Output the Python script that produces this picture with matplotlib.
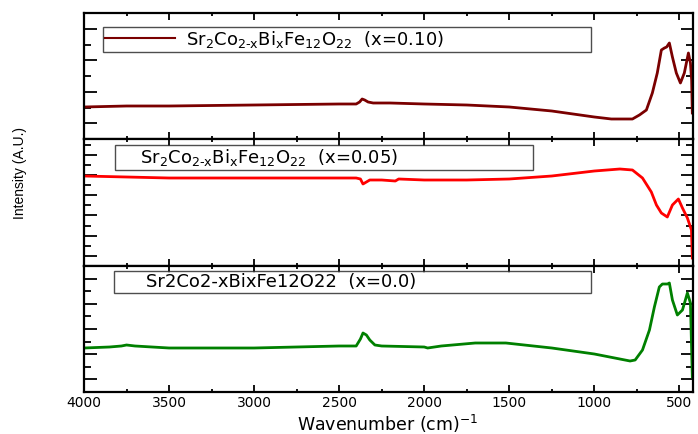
import matplotlib.pyplot as plt
import numpy as np
from matplotlib.lines import Line2D
from matplotlib.ticker import MultipleLocator, FixedLocator, NullFormatter

plt.rcParams["font.family"] = ["DejaVu Sans"]
plt.rcParams["mathtext.fontset"] = "dejavusans"

# x = 0.10 sample
wn_10 = [4000, 3750, 3500, 3000, 2500, 2400, 2380, 2365, 2350, 2330, 2300, 2200, 2000, 1750,
         1500, 1250, 1000, 900, 800, 776, 735, 694, 659, 630, 606, 588, 575, 559, 541, 518,
         494, 471, 447, 435, 428, 424]
val_10 = [32, 33, 33, 34, 35, 35, 37, 40, 39, 37, 36, 36, 35, 34,
          32, 28, 22, 20, 20, 20, 24, 29, 46, 66, 89, 91, 92, 96, 82, 66,
          56, 66, 86, 76, 59, 26]

# x = 0.05 sample
wn_05 = [4000, 3500, 3000, 2500, 2400, 2375, 2360, 2340, 2320, 2250, 2170, 2150, 2000, 1750,
         1500, 1250, 1000, 850, 776, 717, 665, 635, 606, 571, 541, 506, 482, 453, 429, 424]
val_05 = [90, 88, 88, 88, 88, 87, 82, 84, 86, 86, 85, 87, 86, 86,
          87, 90, 95, 97, 96, 88, 74, 61, 53, 49, 61, 67, 58, 48, 36, 8]

# x = 0.0 sample
wn_00 = [4000, 3850, 3780, 3750, 3700, 3600, 3500, 3000, 2500, 2400, 2375, 2360, 2340, 2320,
         2290, 2250, 2000, 1980, 1900, 1700, 1520, 1250, 1000, 850, 790, 760, 717, 676, 647,
         618, 600, 570, 559, 541, 512, 482, 453, 435, 424]
val_00 = [44, 45, 46, 47, 46, 45, 44, 44, 46, 46, 53, 59, 57, 52,
          47, 46, 45, 44, 46, 49, 49, 44, 38, 33, 31, 32, 42, 62, 85,
          105, 108, 108, 109, 92, 77, 82, 99, 89, 15]

labels = [r'Sr$_\mathregular{2}$Co$_\mathregular{2\text{-}x}$Bi$_\mathregular{x}$'
          r'Fe$_\mathregular{12}$O$_\mathregular{22}$  (x=0.10)',
          r'Sr$_\mathregular{2}$Co$_\mathregular{2\text{-}x}$Bi$_\mathregular{x}$'
          r'Fe$_\mathregular{12}$O$_\mathregular{22}$  (x=0.05)',
          'Sr2Co2-xBixFe12O22  (x=0.0)']
colors = ['#7a0000', '#ff0000', '#008000']
xticks = [4000, 3500, 3000, 2500, 2000, 1500, 1000, 500]

W, H = 698, 434
fig = plt.figure(figsize=(W / 100, H / 100), dpi=100)

panels = [(13, 139), (139, 266), (266, 392)]
ydiv = [8, 12.57, 10]
# legend box: left, right, top (figure pixels)
leg_box = [(103, 591, 27), (115, 533, 145), (114, 591, 271)]
data = [(wn_10, val_10), (wn_05, val_05), (wn_00, val_00)]

for i, (top, bot) in enumerate(panels):
    ax = fig.add_axes([84 / W, 1 - bot / H, (693 - 84) / W, (bot - top) / H])
    wn, val = data[i]
    ax.plot(wn, val, color=colors[i], lw=2.0)
    hgt = bot - top
    ax.set_xlim(4000, 420)
    ax.set_ylim(0, hgt)
    ax.xaxis.set_major_locator(FixedLocator(xticks))
    ax.xaxis.set_minor_locator(MultipleLocator(250))
    step = hgt / ydiv[i]
    ticks = np.arange(step, hgt, step)
    ax.yaxis.set_major_locator(FixedLocator(ticks[0::2]))
    ax.yaxis.set_minor_locator(FixedLocator(ticks[1::2]))
    ax.yaxis.set_major_formatter(NullFormatter())
    ax.tick_params(which='both', direction='in', top=True, right=True, width=1.3)
    ax.tick_params(axis='x', which='major', length=5)
    ax.tick_params(axis='x', which='minor', length=2.5)
    ax.tick_params(axis='y', which='major', length=9)
    ax.tick_params(axis='y', which='minor', length=5)
    for s in ax.spines.values():
        s.set_linewidth(1.6)
    if i < 2:
        ax.tick_params(axis='x', labelbottom=False)
    else:
        ax.set_xticklabels([str(t) for t in xticks], fontsize=10)
        ax.tick_params(axis='x', pad=3)

    bl, br, bt = leg_box[i]
    if i == 0:
        h = Line2D([], [], color=colors[i], lw=1.5)
        hl, htp = 3.9, 0.6
    elif i == 1:
        h = Line2D([], [], color='none')
        hl, htp = 1.0, 0.3
    else:
        h = Line2D([], [], color='none')
        hl, htp = 1.4, 0.3
    leg = ax.legend([h], [labels[i]], loc='upper left', mode='expand',
                    bbox_to_anchor=((bl - 84) / 609, 1 - (bt - top) / hgt, (br - bl) / 609, 0),
                    borderaxespad=0, fontsize=13, frameon=True, fancybox=False,
                    edgecolor='#222222', handlelength=hl, handletextpad=htp, borderpad=0.1)
    leg.get_frame().set_linewidth(1.0)

fig.text(20 / W, 1 - 173 / H, 'Intensity (A.U.)', rotation=90, ha='center', va='center',
         fontsize=10, family=['Liberation Sans Narrow', 'Liberation Sans'])
fig.text(388 / W, 1 - 424 / H, r'Wavenumber (cm)$^{-1}$', ha='center', va='center', fontsize=12.5)

fig.savefig('out.png', dpi=100)
